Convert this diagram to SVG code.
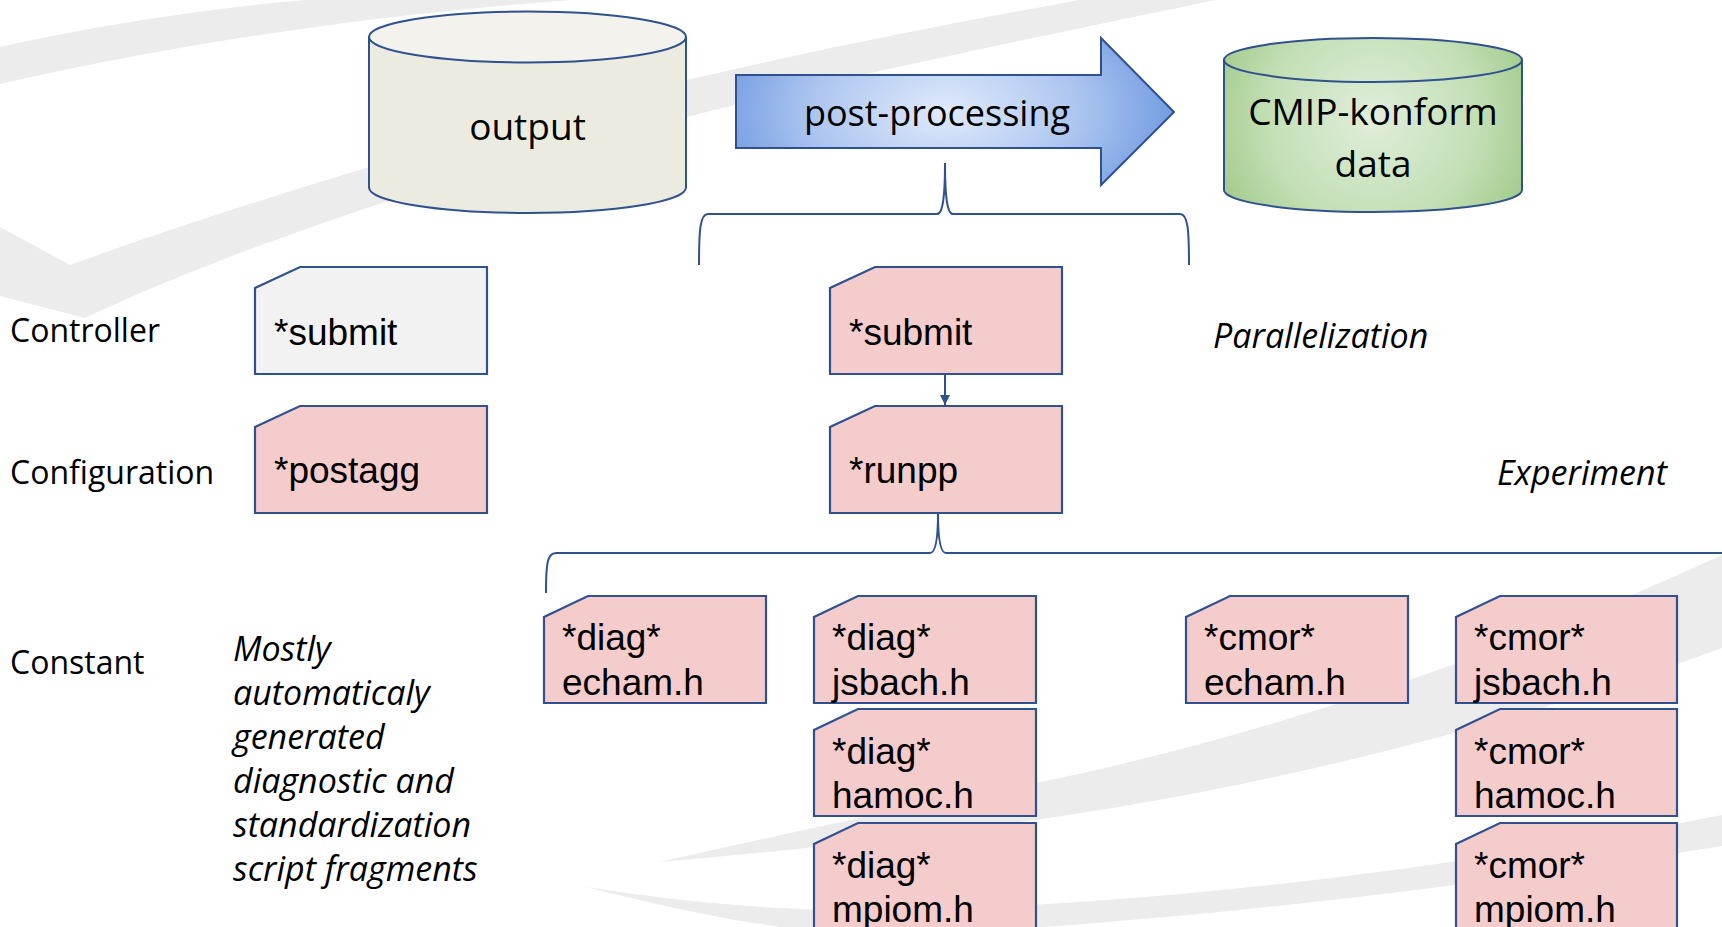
<svg xmlns="http://www.w3.org/2000/svg" width="1722" height="927" viewBox="0 0 1722 927">
<defs>
<style>
.bg{fill:#ececec;stroke:none}
.ln{fill:none;stroke:#2f528f;stroke-width:2}
.sk{stroke:#2f528f;stroke-width:2}
.box{stroke:#2f528f;stroke-width:2.2}
.pink{fill:#f4cccc}
.grey{fill:#f2f2f2}
.cal{font-family:"Open Sans","Noto Sans",sans-serif;fill:#000}
.it{font-family:"Open Sans","Noto Sans",sans-serif;font-style:italic;font-size:34px;fill:#000}
.ar{font-family:"Liberation Sans",Arial,sans-serif;font-size:37px;fill:#000}
</style>
<radialGradient id="gArrow" gradientUnits="userSpaceOnUse" cx="945" cy="111" r="240" gradientTransform="translate(945 111) scale(1 0.6) translate(-945 -111)">
<stop offset="0" stop-color="#e0eafb"/>
<stop offset="0.55" stop-color="#adc6f0"/>
<stop offset="1" stop-color="#6d98e0"/>
</radialGradient>
<radialGradient id="gGreen" gradientUnits="userSpaceOnUse" cx="1373" cy="118" r="175">
<stop offset="0" stop-color="#e0eedb"/>
<stop offset="0.6" stop-color="#c3dfb5"/>
<stop offset="1" stop-color="#9fc988"/>
</radialGradient>
<marker id="mh" markerWidth="10" markerHeight="12" refX="10" refY="5" orient="auto" markerUnits="userSpaceOnUse">
<path d="M0,0 L10,5 L0,10 Z" fill="#2f528f"/>
</marker>
</defs>
<rect width="1722" height="927" fill="#ffffff"/>
<g id="background">
<path class="bg" d="M0,47 C100,25 220,6 330,-2 L600,-2 C350,15 150,50 0,84 Z"/>
<path class="bg" d="M0,227 L70,265 C250,200 500,125 687,80 C850,42 980,18 1091,-2 L1225,-2 C1000,45 850,75 687,117 C500,160 250,240 85,318 L0,296 Z"/>
<path class="bg" d="M660,862 C800,830 920,805 1035,783 C1200,750 1450,680 1722,555 L1722,648 C1500,730 1250,790 1035,820 C900,838 780,852 660,862 Z"/>
<path class="bg" d="M586,887 C700,905 800,912 900,910 C1150,905 1450,870 1722,815 L1722,846 C1450,890 1150,925 900,935 C780,935 680,910 586,887 Z"/>
</g>
<g id="connectors">
<path class="ln" d="M699,265 C699,230 700,214 708,214 L937,214 C943,214 945,195 945,163 C945,195 947,214 953,214 L1180,214 C1188,214 1189,230 1189,265"/>
<path class="ln" d="M546,593 C546,565 547,553 556,553 L930,553 C936,553 938,535 938,513 C938,535 940,553 946,553 L1730,553"/>
<line class="ln" x1="945" y1="374" x2="945" y2="405" marker-end="url(#mh)"/>
</g>
<g id="output">
<path d="M369,37 V187.5 A158.5,25.5 0 0 0 686,187.5 V37 Z" fill="#ecebdf" class="sk"/>
<ellipse cx="527.5" cy="37" rx="158.5" ry="25.5" fill="#f3f2ed" class="sk"/>
<text class="cal" x="527.5" y="140" font-size="37" text-anchor="middle">output</text>
</g>
<g id="post-processing">
<path d="M736,75 L1101,75 L1101,38 L1174,112 L1101,185 L1101,148 L736,148 Z" fill="url(#gArrow)" class="sk"/>
<text class="cal" x="937" y="126" font-size="36" text-anchor="middle">post-processing</text>
</g>
<g id="cmip">
<path d="M1224,60 V190 A149,22 0 0 0 1522,190 V60 Z" fill="url(#gGreen)" class="sk"/>
<ellipse cx="1373" cy="60" rx="149" ry="22" fill="url(#gGreen)" class="sk"/>
<text class="cal" x="1373" y="125" font-size="37" text-anchor="middle">CMIP-konform</text>
<text class="cal" x="1373" y="177" font-size="37" text-anchor="middle">data</text>
</g>
<g id="labels">
<text class="cal" x="10" y="342" font-size="32">Controller</text>
<text class="cal" x="10" y="484" font-size="32">Configuration</text>
<text class="cal" x="10" y="674" font-size="32">Constant</text>
<text class="it" x="1213" y="348">Parallelization</text>
<text class="it" x="1497" y="485">Experiment</text>
</g>
<g id="note">
<text class="it"><tspan x="233" y="661">Mostly</tspan><tspan x="233" y="705">automaticaly</tspan><tspan x="233" y="749">generated</tspan><tspan x="233" y="793">diagnostic and</tspan><tspan x="233" y="837">standardization</tspan><tspan x="233" y="881">script fragments</tspan></text>
</g>
<g id="submit-ctrl">
<path class="box grey" d="M300,267 L487,267 L487,374 L255,374 L255,288 Z"/>
<text class="ar" x="274" y="345">*submit</text>
</g>
<g id="postagg">
<path class="box pink" d="M300,406 L487,406 L487,513 L255,513 L255,427 Z"/>
<text class="ar" x="274" y="483">*postagg</text>
</g>
<g id="submit-pp">
<path class="box pink" d="M875,267 L1062,267 L1062,374 L830,374 L830,288 Z"/>
<text class="ar" x="849" y="345">*submit</text>
</g>
<g id="runpp">
<path class="box pink" d="M875,406 L1062,406 L1062,513 L830,513 L830,427 Z"/>
<text class="ar" x="849" y="483">*runpp</text>
</g>
<g id="diag-echam">
<path class="box pink" d="M588,596 L766,596 L766,703 L544,703 L544,617 Z"/>
<text class="ar" x="562" y="650">*diag*</text><text class="ar" x="562" y="695">echam.h</text>
</g>
<g id="diag-jsbach">
<path class="box pink" d="M858,596 L1036,596 L1036,703 L814,703 L814,617 Z"/>
<text class="ar" x="832" y="650">*diag*</text><text class="ar" x="832" y="695">jsbach.h</text>
</g>
<g id="diag-hamoc">
<path class="box pink" d="M858,709 L1036,709 L1036,816 L814,816 L814,730 Z"/>
<text class="ar" x="832" y="764">*diag*</text><text class="ar" x="832" y="808">hamoc.h</text>
</g>
<g id="diag-mpiom">
<path class="box pink" d="M858,823 L1036,823 L1036,935 L814,935 L814,844 Z"/>
<text class="ar" x="832" y="878">*diag*</text><text class="ar" x="832" y="922">mpiom.h</text>
</g>
<g id="cmor-echam">
<path class="box pink" d="M1230,596 L1408,596 L1408,703 L1186,703 L1186,617 Z"/>
<text class="ar" x="1204" y="650">*cmor*</text><text class="ar" x="1204" y="695">echam.h</text>
</g>
<g id="cmor-jsbach">
<path class="box pink" d="M1500,596 L1677,596 L1677,703 L1456,703 L1456,617 Z"/>
<text class="ar" x="1474" y="650">*cmor*</text><text class="ar" x="1474" y="695">jsbach.h</text>
</g>
<g id="cmor-hamoc">
<path class="box pink" d="M1500,709 L1677,709 L1677,816 L1456,816 L1456,730 Z"/>
<text class="ar" x="1474" y="764">*cmor*</text><text class="ar" x="1474" y="808">hamoc.h</text>
</g>
<g id="cmor-mpiom">
<path class="box pink" d="M1500,823 L1677,823 L1677,935 L1456,935 L1456,844 Z"/>
<text class="ar" x="1474" y="878">*cmor*</text><text class="ar" x="1474" y="922">mpiom.h</text>
</g>
</svg>
